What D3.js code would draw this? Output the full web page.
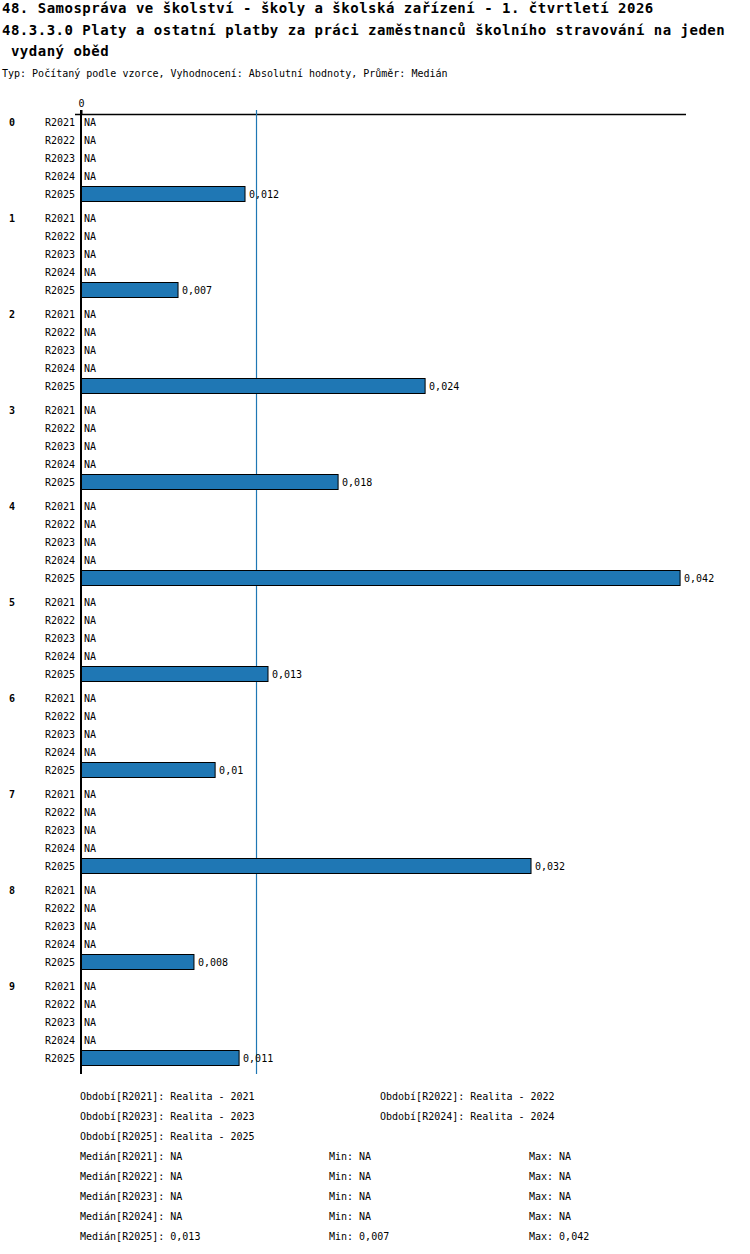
<!DOCTYPE html>
<html>
<head>
<meta charset="utf-8">
<script src="https://cdn.jsdelivr.net/npm/d3@7"></script>
<style>
  body { margin: 0; background: #fff; }
  text { font-family: "DejaVu Sans Mono", "Liberation Mono", monospace; fill: #000; }
</style>
</head>
<body>
<svg id="grafico"></svg>
<script>
// datos
const titulos = [
  "48. Samospráva ve školství - školy a školská zařízení - 1. čtvrtletí 2026",
  "48.3.3.0 Platy a ostatní platby za práci zaměstnanců školního stravování na jeden",
  " vydaný oběd"
];
const subtitulo = "Typ: Počítaný podle vzorce, Vyhodnocení: Absolutní hodnoty, Průměr: Medián";

const grupos = ["0", "1", "2", "3", "4", "5", "6", "7", "8", "9"];
const periodos = ["R2021", "R2022", "R2023", "R2024", "R2025"];
const nombresPeriodos = ["Realita - 2021", "Realita - 2022", "Realita - 2023", "Realita - 2024", "Realita - 2025"];

// solo R2025 tiene valores, los demas son NA
const valoresR2025 = [0.01163, 0.00688, 0.0244, 0.01823, 0.04248, 0.01326, 0.00951, 0.03191, 0.00801, 0.01121];

// resumen de la leyenda (como aparece en la imagen)
const resumenMediana = [null, null, null, null, 0.013];
const resumenMin = [null, null, null, null, 0.007];
const resumenMax = [null, null, null, null, 0.042];

const WIDTH = 750,
  HEIGHT = 1254;

const svg = d3.select("#grafico")
  .attr("width", WIDTH)
  .attr("height", HEIGHT);

const formato = v => v == null ? "NA" : (+v.toFixed(3)).toString().replace(".", ",");

// datos por fila
const datos = [];
grupos.forEach((g, gi) => {
  periodos.forEach((p, pi) => {
    datos.push({ grupo: g, periodo: p, valor: p === "R2025" ? valoresR2025[gi] : null });
  });
});

// escalas
const escalaX = d3.scaleLinear()
  .domain([0, 0.0429])
  .range([81, 686]);

const escalaGrupo = d3.scaleBand()
  .domain(grupos)
  .range([113, 1073]);

const escalaPeriodo = d3.scalePoint()
  .domain(periodos)
  .range([9, 81]);

const yFila = d => escalaGrupo(d.grupo) + escalaPeriodo(d.periodo);

// titulos
svg.append("g")
  .selectAll("text")
  .data(titulos)
  .join("text")
  .attr("x", 2)
  .attr("y", (_, i) => 13 + i * 21.5)
  .style("font-size", "14px")
  .style("font-weight", "bold")
  .style("letter-spacing", "0.5px")
  .style("white-space", "pre")
  .text(d => d);

svg.append("text")
  .attr("x", 2)
  .attr("y", 77)
  .style("font-size", "10px")
  .text(subtitulo);

// eje superior
const ejeArriba = d3.axisTop(escalaX)
  .tickValues([0])
  .tickSize(4)
  .tickFormat(d3.format("d"));

const contenedorEje = svg.append("g")
  .attr("transform", "translate(0 114)")
  .call(ejeArriba);

contenedorEje.select(".domain").remove();
contenedorEje.selectAll("text")
  .style("font-size", "10px")
  .style("font-family", "DejaVu Sans Mono");
contenedorEje.selectAll(".tick line")
  .attr("stroke-width", 2);

svg.append("line")
  .attr("x1", escalaX(0) - 6)
  .attr("x2", escalaX.range()[1])
  .attr("y1", 114.5)
  .attr("y2", 114.5)
  .attr("stroke", "#000")
  .attr("stroke-width", 1.5);

// linea de la mediana
const mediana = d3.median(valoresR2025);
svg.append("line")
  .attr("x1", escalaX(mediana))
  .attr("x2", escalaX(mediana))
  .attr("y1", 110)
  .attr("y2", escalaGrupo.range()[1] + 1)
  .attr("stroke", "#1f77b4")
  .attr("stroke-width", 1.2);

// barras
const conValor = datos.filter(d => d.valor != null);
svg.append("g")
  .selectAll("rect")
  .data(conValor)
  .join("rect")
  .attr("x", escalaX(0))
  .attr("y", d => yFila(d) - 7.5)
  .attr("width", d => escalaX(d.valor) - escalaX(0))
  .attr("height", 15)
  .attr("fill", "#1f77b4")
  .attr("stroke", "#000")
  .attr("stroke-width", 1);

// eje vertical
svg.append("line")
  .attr("x1", escalaX(0))
  .attr("x2", escalaX(0))
  .attr("y1", 110)
  .attr("y2", escalaGrupo.range()[1] + 1)
  .attr("stroke", "#000")
  .attr("stroke-width", 2);

// etiquetas de grupo
svg.append("g")
  .selectAll("text")
  .data(grupos)
  .join("text")
  .attr("x", 9)
  .attr("y", d => escalaGrupo(d) + escalaPeriodo(periodos[0]))
  .attr("dy", "0.35em")
  .style("font-size", "10px")
  .style("font-weight", "bold")
  .text(d => d);

// etiquetas de periodo
svg.append("g")
  .selectAll("text")
  .data(datos)
  .join("text")
  .attr("x", 75)
  .attr("y", yFila)
  .attr("dy", "0.35em")
  .attr("text-anchor", "end")
  .style("font-size", "10px")
  .text(d => d.periodo);

// valores
svg.append("g")
  .selectAll("text")
  .data(datos)
  .join("text")
  .attr("x", d => d.valor == null ? escalaX(0) + 3 : escalaX(d.valor) + 4)
  .attr("y", yFila)
  .attr("dy", "0.35em")
  .style("font-size", "10px")
  .text(d => formato(d.valor));

// leyenda
const leyenda = svg.append("g").style("font-size", "10px");

leyenda.selectAll("text.periodo")
  .data(periodos)
  .join("text")
  .attr("class", "periodo")
  .attr("x", (_, i) => i % 2 === 0 ? 80 : 380)
  .attr("y", (_, i) => 1096 + Math.floor(i / 2) * 20)
  .attr("dy", "0.35em")
  .text((d, i) => `Období[${d}]: ${nombresPeriodos[i]}`);

const filasResumen = leyenda.selectAll("g.resumen")
  .data(periodos)
  .join("g")
  .attr("class", "resumen")
  .attr("transform", (_, i) => `translate(0 ${1156 + i * 20})`);

filasResumen.append("text")
  .attr("x", 80)
  .attr("dy", "0.35em")
  .text((d, i) => `Medián[${d}]: ${formato(resumenMediana[i])}`);

filasResumen.append("text")
  .attr("x", 329)
  .attr("dy", "0.35em")
  .text((d, i) => `Min: ${formato(resumenMin[i])}`);

filasResumen.append("text")
  .attr("x", 529)
  .attr("dy", "0.35em")
  .text((d, i) => `Max: ${formato(resumenMax[i])}`);
</script>
</body>
</html>
